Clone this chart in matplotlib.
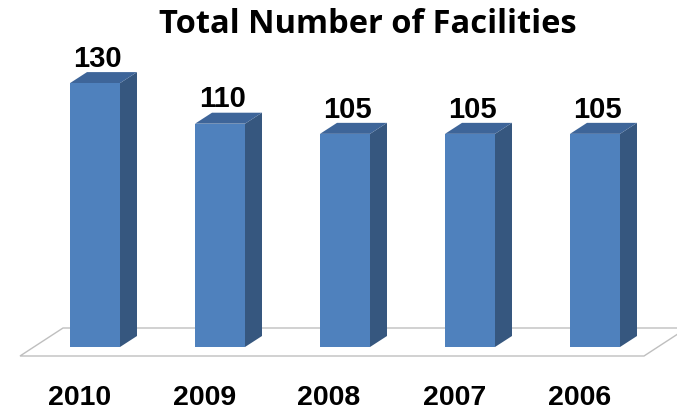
import matplotlib
matplotlib.use("Agg")
import matplotlib.pyplot as plt
from matplotlib.patches import Polygon

categories = ["2010", "2009", "2008", "2007", "2006"]
values = [130, 110, 105, 105, 105]
title = "Total Number of Facilities"

W, H, DPI = 677, 412, 100
fig = plt.figure(figsize=(W / DPI, H / DPI), dpi=DPI)
ax = fig.add_axes([0, 0, 1, 1])
ax.set_axis_off()

# scales: 1 category = 125 px, 1 value unit = 2.03 px, baseline at pixel 347
px_x = 125.0
px_y = 2.03
x0_px = 95.0
base_px = 347.0
ax.set_xlim(-x0_px / px_x, (W - x0_px) / px_x)
ax.set_ylim((base_px - H) / px_y, base_px / px_y)

bar_w = 0.4
dx = 17 / px_x
dy = 11 / px_y

front_c = "#4F81BD"
side_c = "#36577F"
top_c = "#3E6599"

# floor
fdx = 43 / px_x
fdy = 28 / px_y
fl = -0.6
fr = 4.392
fy = -9 / px_y
floor = Polygon([(fl, fy), (fr, fy), (fr + fdx, fy + fdy), (fl + fdx, fy + fdy)],
                closed=True, facecolor="white", edgecolor="#BFBFBF", lw=1.0, zorder=1)
ax.add_patch(floor)

for i, (c, v) in enumerate(zip(categories, values)):
    l = i - bar_w / 2
    r = i + bar_w / 2
    ax.add_patch(Polygon([(r, 0), (r + dx, dy), (r + dx, v + dy), (r, v)],
                         closed=True, facecolor=side_c, edgecolor="none", zorder=2))
    ax.add_patch(Polygon([(l, v), (r, v), (r + dx, v + dy), (l + dx, v + dy)],
                         closed=True, facecolor=top_c, edgecolor="none", zorder=2))
    ax.bar(i, v, width=bar_w, bottom=0, color=front_c, zorder=3)
    ax.annotate(f"{v}", xy=(i + 0.02, v), xytext=(0, 11.7), textcoords="offset points",
                ha="center", va="baseline", fontsize=21, fontweight="bold",
                family="Liberation Sans", color="black")
    ax.text(i - 0.127, (base_px - 405) / px_y, c, ha="center", va="baseline", fontsize=20.5,
            fontweight="bold", family="Liberation Sans", color="black")

fig.text(368 / W, 1 - 33.3 / H, title, ha="center", va="baseline", fontsize=23.5,
         fontweight="bold", family="Open Sans", color="black")

fig.savefig("out.png", dpi=DPI, facecolor="white")
